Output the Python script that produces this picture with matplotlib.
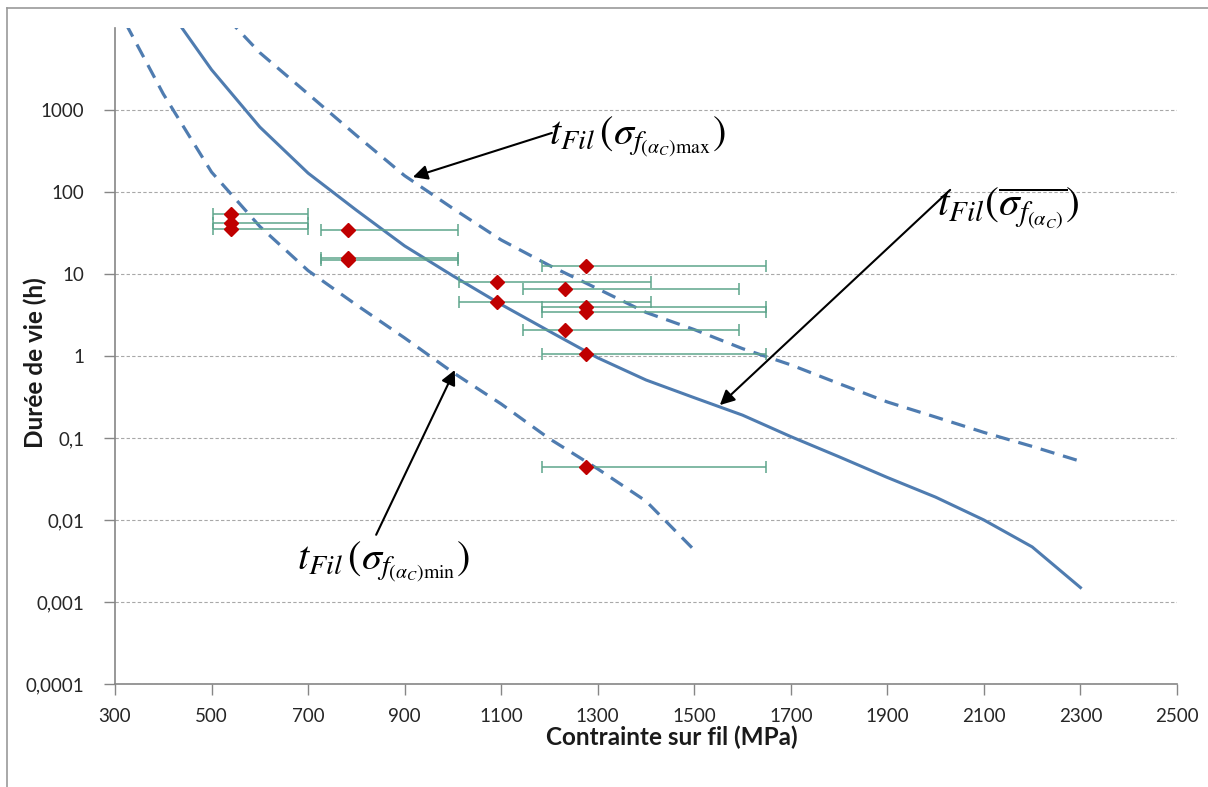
import numpy as np
import matplotlib
matplotlib.use('Agg')
from matplotlib import pyplot as plt
from matplotlib.lines import Line2D

plt.rcParams['mathtext.fontset'] = 'stix'

# courbe moyenne t_Fil(sigma moyen)
stress_mean = [400, 500, 600, 700, 800, 900, 1000, 1100, 1200, 1300, 1400, 1500,
               1600, 1700, 1800, 1900, 2000, 2100, 2200, 2300]
life_mean = [21000, 3100, 620, 170, 60, 22, 9.5, 4.25, 2.0, 0.95, 0.51, 0.31,
             0.19, 0.104, 0.059, 0.033, 0.019, 0.010, 0.0047, 0.0015]

# borne haute (sigma max)
stress_max = [500, 600, 700, 800, 900, 1000, 1100, 1200, 1300, 1400, 1500, 1600,
              1700, 1800, 1900, 2000, 2100, 2200, 2300]
life_max = [21000, 5000, 1570, 490, 158, 63, 26, 12.7, 6.6, 3.4, 2.1, 1.23,
            0.78, 0.46, 0.275, 0.18, 0.117, 0.079, 0.052]

# borne basse (sigma min)
stress_min = [300, 400, 500, 600, 700, 800, 900, 1000, 1100, 1200, 1300, 1400, 1500]
life_min = [20000, 1570, 175, 38, 11, 4.2, 1.66, 0.63, 0.26, 0.098, 0.042, 0.017, 0.0043]

# essais
stress_exp = np.array([541, 541, 541, 782, 782, 782, 1091, 1091, 1233, 1233,
                       1275, 1275, 1275, 1275, 1275])
life_exp = np.array([53.5, 41.5, 35, 34, 15.8, 14.7, 7.9, 4.5, 6.5, 2.07,
                     12.5, 3.93, 3.47, 1.07, 0.044])
stress_lo = np.array([502, 502, 502, 727, 727, 727, 1013, 1013, 1146, 1146,
                      1185, 1185, 1185, 1185, 1185])
stress_hi = np.array([700, 700, 700, 1011, 1011, 1011, 1410, 1410, 1593, 1593,
                      1649, 1649, 1649, 1649, 1649])

xticks = list(range(300, 2501, 200))
yticks = [1e-4, 1e-3, 1e-2, 1e-1, 1, 10, 100, 1000]
ylabels = ['0,0001', '0,001', '0,01', '0,1', '1', '10', '100', '1000']

# annotations: (tip x, tip y), (tail x, tail y), text position
arrow_max = ((917, 152), (1205, 525))
arrow_mean = ((1553, 0.252), (2030, 106))
arrow_min = ((1004, 0.675), (841, 0.0066))
label_max_pos = (1200, 470)
label_mean_pos = (2002, 64)
label_min_pos = (678, 0.0031)

blue = '#4f7cb0'
grey = '#868686'
font = 'Lato'

fig = plt.figure(figsize=(12.08, 7.87), dpi=100)
ax = fig.add_axes([115/1208, 1 - 684/787, (1177-115)/1208, (684-28)/787])

ax.plot(stress_mean, life_mean, color=blue, lw=2.2)
ax.plot(stress_max, life_max, color=blue, lw=2.3, dashes=(4.5, 2.8))
ax.plot(stress_min, life_min, color=blue, lw=2.3, dashes=(4.5, 2.8))

ax.errorbar(stress_exp, life_exp, xerr=[stress_exp - stress_lo, stress_hi - stress_exp],
            fmt='D', color='#c00000', markersize=7.5, ecolor='#5ea58c',
            elinewidth=1.1, capsize=4, capthick=1.1, zorder=3)

ax.set_yscale('log')
ax.set_xlim(300, 2500)
ax.set_ylim(1e-4, 1e4)
ax.set_xticks(xticks)
ax.set_xticklabels([str(t) for t in xticks], fontfamily=font, fontsize=13.5, color='#262626')
ax.set_yticks(yticks)
ax.set_yticklabels(ylabels, fontfamily=font, fontsize=13.5, color='#262626')
ax.yaxis.set_minor_locator(matplotlib.ticker.NullLocator())
ax.tick_params(axis='both', direction='out', length=8, width=1, color=grey)
ax.tick_params(axis='x', pad=9)
ax.tick_params(axis='y', pad=14)

ax.grid(True, axis='y', color='#a8a8a8', lw=0.8, ls=(0, (3, 2)))
ax.set_axisbelow(True)
for s in ['top', 'right']:
    ax.spines[s].set_visible(False)
for s in ['left', 'bottom']:
    ax.spines[s].set_color(grey)
    ax.spines[s].set_linewidth(1.2)

ax.set_xlabel('Contrainte sur fil (MPa)', fontfamily=font, fontweight='bold',
              fontsize=17.5, color='#1a1a1a')
ax.set_ylabel('Durée de vie (h)', fontfamily=font, fontweight='bold',
              fontsize=17.5, color='#1a1a1a')
ax.xaxis.set_label_coords(0.5245, -0.064)
ax.yaxis.set_label_coords(-0.064, 0.49)

arrowstyle = dict(arrowstyle='-|>', color='black', lw=1.5, mutation_scale=22,
                  shrinkA=0, shrinkB=0)
for tip, tail in [arrow_max, arrow_mean, arrow_min]:
    ax.annotate('', xy=tip, xytext=tail, arrowprops=arrowstyle)

ax.text(*label_max_pos, r'$t_{Fil}\,(\sigma_{f_{(\alpha_C)\mathrm{max}}})$',
        fontsize=29, ha='left', va='center')
ax.text(*label_mean_pos, r'$t_{Fil}(\overline{\sigma_{f_{(\alpha_C)}}})$',
        fontsize=30, ha='left', va='center')
ax.text(*label_min_pos, r'$t_{Fil}\,(\sigma_{f_{(\alpha_C)\mathrm{min}}})$',
        fontsize=29, ha='left', va='center')

# cadre extérieur (haut et gauche)
fig.add_artist(Line2D([7/1208, 7/1208], [0, 1 - 8/787], color='#9a9a9a', lw=1.2))
fig.add_artist(Line2D([7/1208, 1], [1 - 8/787, 1 - 8/787], color='#9a9a9a', lw=1.2))

fig.savefig('out.png', dpi=100)
